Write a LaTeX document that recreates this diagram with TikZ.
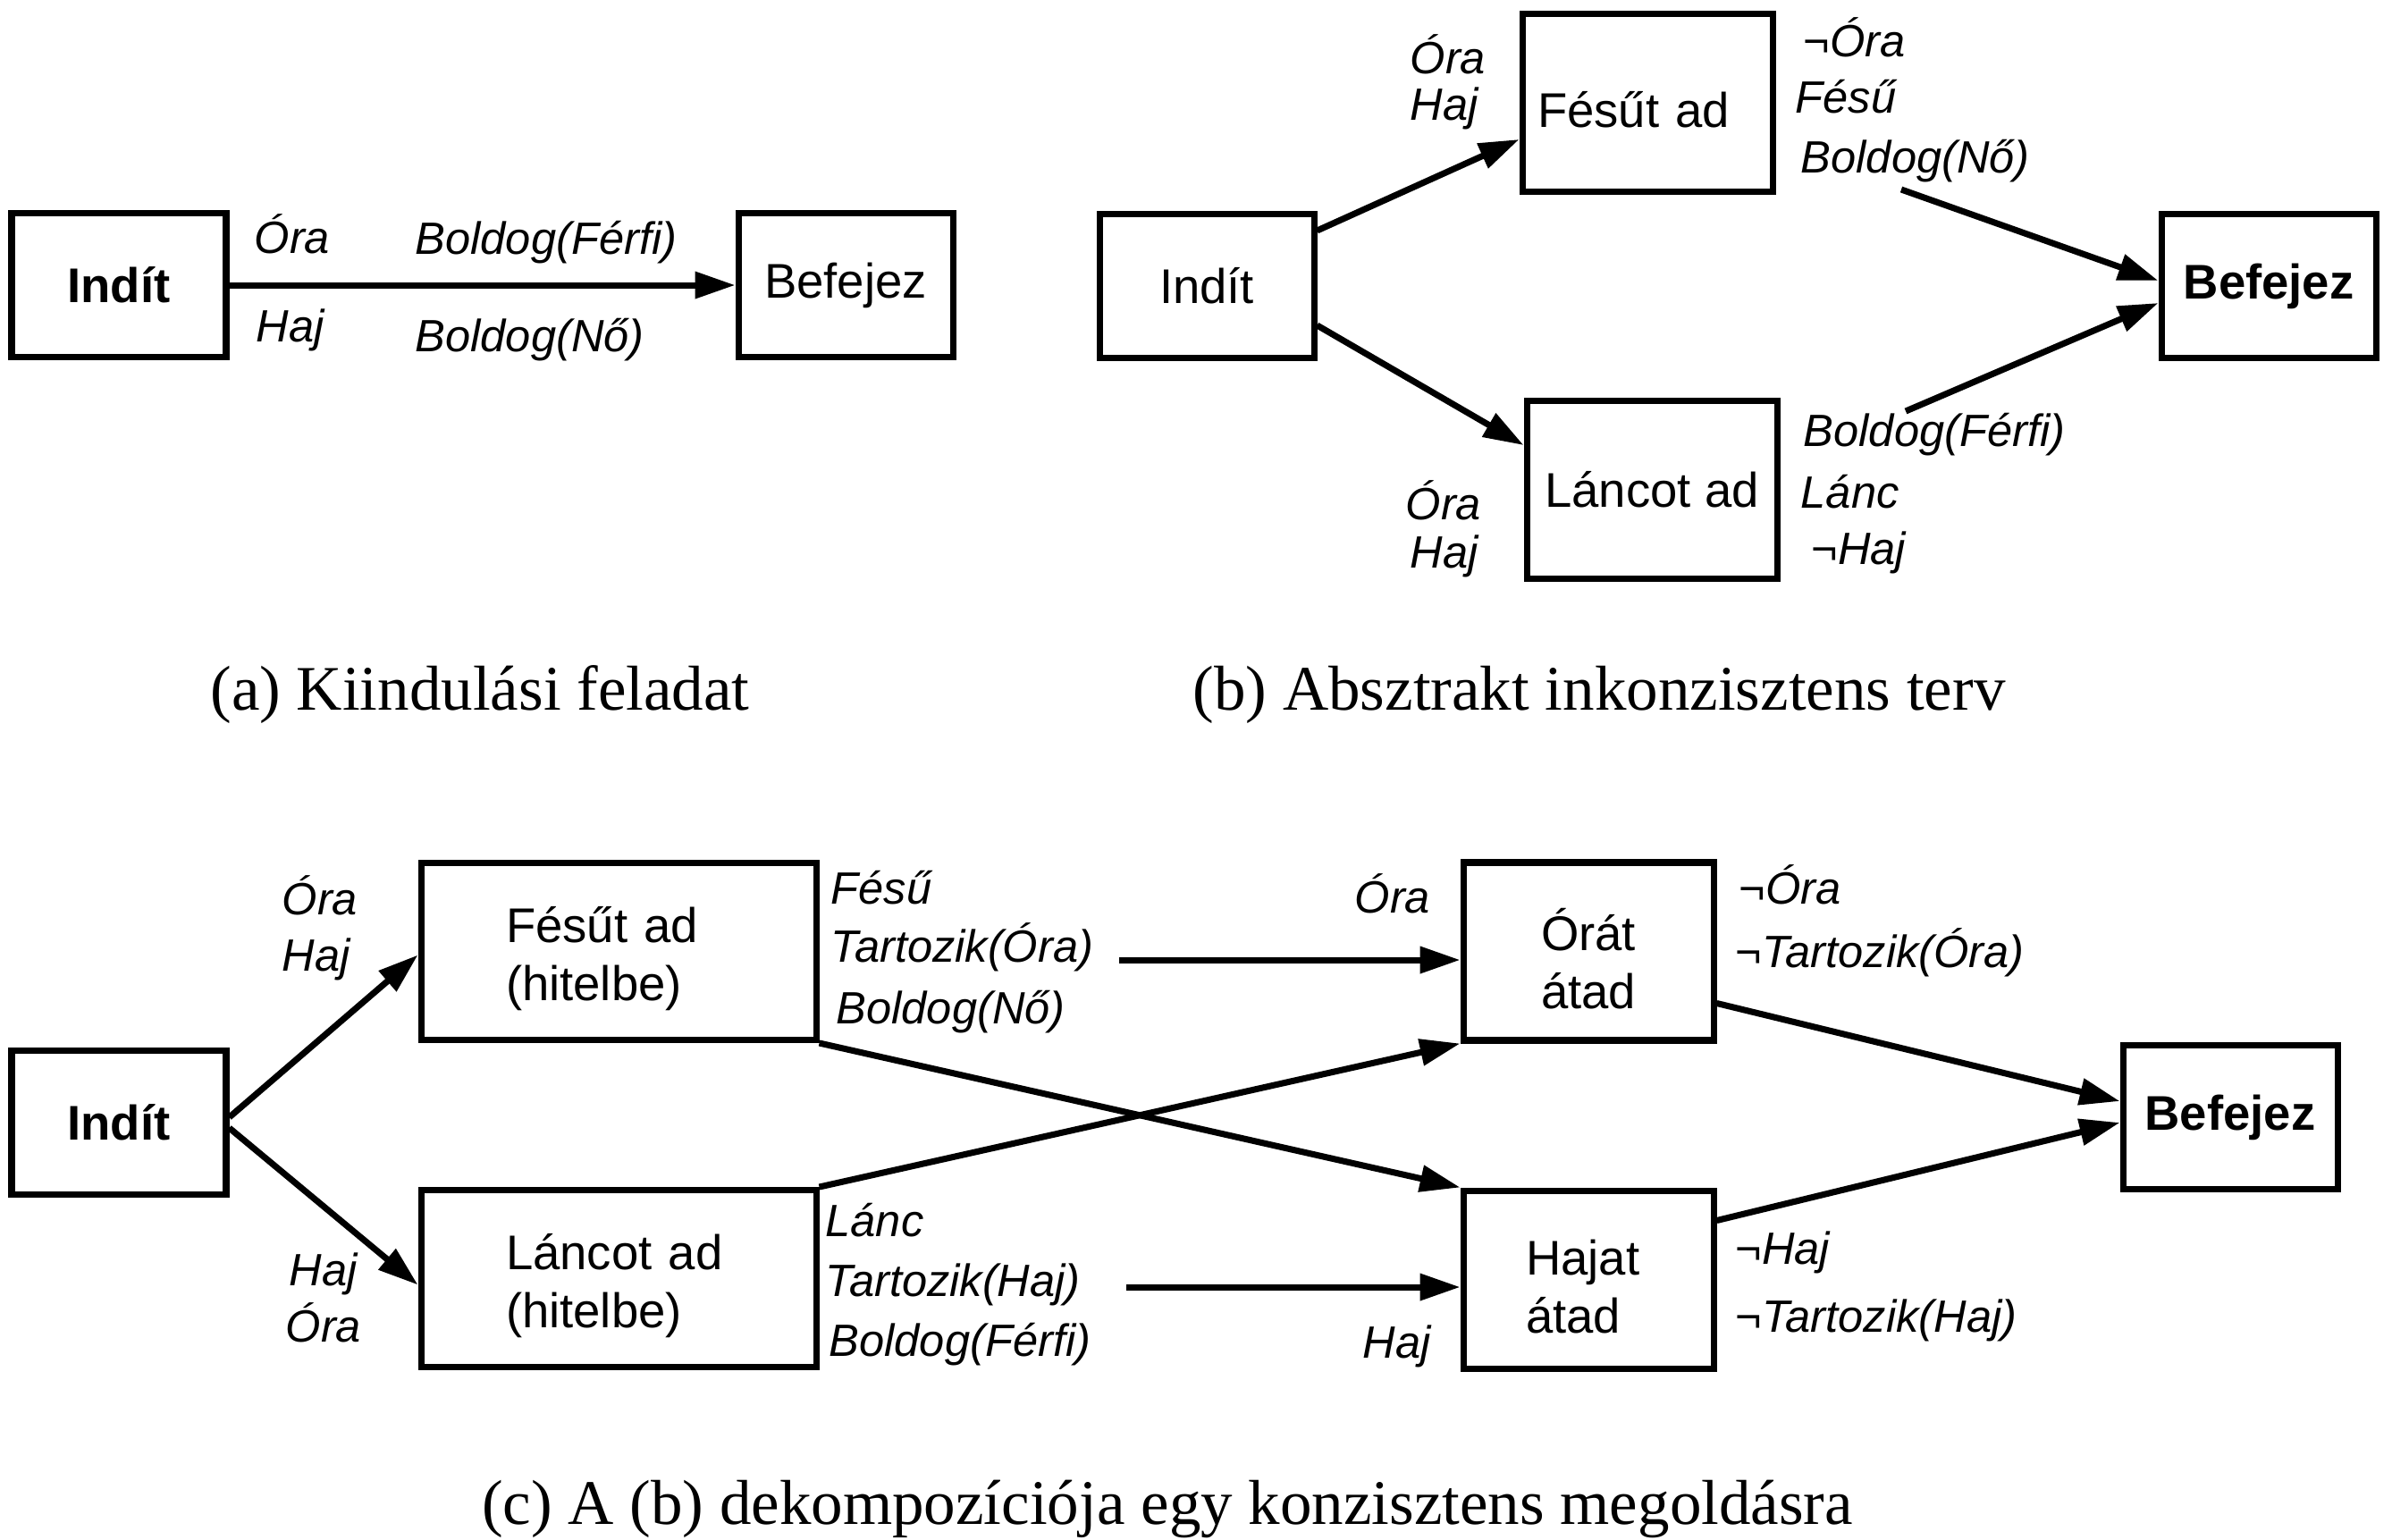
\documentclass[tikz,border=0pt]{standalone}
\usepackage{fontspec}
\setmainfont{Liberation Serif}
\setsansfont{Liberation Sans}
\usetikzlibrary{arrows.meta,positioning,calc}
\newcommand{\sunk}[1]{\raisebox{-0.8mm}[\height][\depth]{#1}}
\tikzset{
  >={Triangle[length=4.5mm,width=2.9mm]},
  every node/.style={text=black},
  box/.style={draw,line width=2pt,align=left,inner sep=2pt,minimum width=2.40cm,minimum height=1.61cm,font=\sffamily\fontsize{15.5}{18.5}\selectfont},
  wbox/.style={box,minimum width=2.80cm,minimum height=1.99cm},
  xbox/.style={box,minimum width=4.42cm,minimum height=1.98cm,text width=2.52cm},
  lit/.style={anchor=base west,inner sep=0pt,font=\sffamily\itshape\fontsize{14.4}{17}\selectfont},
  caption/.style={anchor=base,inner sep=0pt,font=\rmfamily\fontsize{20.2}{24}\selectfont},
  arrow/.style={->,line width=2pt}
}
\begin{document}
\begin{tikzpicture}
  \useasboundingbox (0,0) rectangle (26.76,-17.22);

  \node[box] (inda) at (1.33,-3.19) {\textbf{Indít}};
  \node[box,right=5.66cm of inda] (befa) {Befejez};
  \node[lit] (aOra) at (2.84,-2.83) {Óra};
  \node[lit] (aHaj) at (2.86,-3.82) {Haj};
  \node[lit] (aFerfi) at (4.64,-2.84) {Boldog(Férfi)};
  \node[lit] (aNo) at (4.64,-3.93) {Boldog(Nő)};
  \draw[arrow] (inda)--(befa);
  \node[caption] (capa) at (5.37,-7.94) {(a) Kiindulási feladat};

  \node[box] (indb) at (13.50,-3.20) {Indít};
  \node[wbox,text width=2.46cm,above right=0.18cm and 2.26cm of indb] (fesb) {\sunk{Fésűt ad}};
  \node[wbox,below right=0.41cm and 2.31cm of indb] (lancb) {Láncot ad};
  \node[box,right=9.41cm of indb] (befb) {\textbf{Befejez}};
  \node[lit] (bOra) at (15.77,-0.82) {Óra};
  \node[lit] (bHaj) at (15.77,-1.34) {Haj};
  \node[lit] (bNemOra) at (20.17,-0.63) {¬Óra};
  \node[lit] (bFesu) at (20.08,-1.26) {Fésű};
  \node[lit] (bNo) at (20.14,-1.93) {Boldog(Nő)};
  \node[lit] (bFerfi) at (20.17,-4.99) {Boldog(Férfi)};
  \node[lit] (bLanc) at (20.14,-5.68) {Lánc};
  \node[lit] (bNemHaj) at (20.26,-6.31) {¬Haj};
  \node[lit] (bOra2) at (15.72,-5.81) {Óra};
  \node[lit] (bHaj2) at (15.77,-6.35) {Haj};
  \coordinate (fromNo) at (21.27,-2.12);
  \coordinate (fromFerfi) at (21.32,-4.60);
  \draw[arrow] ([yshift=-2.2mm]indb.north east)--([yshift=-4.1mm]fesb.west);
  \draw[arrow] ([yshift=-4.4mm]indb.east)--([yshift=5.0mm]lancb.west);
  \draw[arrow] (fromNo)--([yshift=0.6mm]befb.west);
  \draw[arrow] (fromFerfi)--([yshift=-1.9mm]befb.west);
  \node[caption] (capb) at (17.89,-7.94) {(b) Absztrakt inkonzisztens terv};

  \node[box] (indc) at (1.33,-12.56) {\textbf{Indít}};
  \node[xbox,above right=0.05cm and 2.11cm of indc] (fesc) {\sunk{Fésűt ad}\\\sunk{(hitelbe)}};
  \node[xbox,below=1.61cm of fesc] (lancc) {\sunk{Láncot ad}\\\sunk{(hitelbe)}};
  \node[wbox,right=7.17cm of fesc] (orac) {\sunk{Órát}\\\sunk{átad}};
  \node[wbox,text width=1.40cm,below=1.61cm of orac] (hajc) {\sunk{Hajat}\\\sunk{átad}};
  \node[box] (befc) at (24.95,-12.50) {\textbf{Befejez}};
  \node[lit] (cOra) at (3.15,-10.23) {Óra};
  \node[lit] (cHaj) at (3.15,-10.86) {Haj};
  \node[lit] (cFesu) at (9.29,-10.11) {Fésű};
  \node[lit] (cTartOra) at (9.29,-10.76) {Tartozik(Óra)};
  \node[lit] (cNo) at (9.35,-11.45) {Boldog(Nő)};
  \node[lit] (cLanc) at (9.23,-13.83) {Lánc};
  \node[lit] (cTartHaj) at (9.23,-14.50) {Tartozik(Haj)};
  \node[lit] (cFerfi) at (9.27,-15.17) {Boldog(Férfi)};
  \node[lit] (cHaj2) at (3.23,-14.38) {Haj};
  \node[lit] (cOra2) at (3.19,-15.01) {Óra};
  \node[lit] (cOra3) at (15.15,-10.21) {Óra};
  \node[lit] (cNemOra) at (19.45,-10.11) {¬Óra};
  \node[lit] (cNemTartOra) at (19.41,-10.82) {¬Tartozik(Óra)};
  \node[lit] (cNemHaj) at (19.41,-14.14) {¬Haj};
  \node[lit] (cNemTartHaj) at (19.41,-14.90) {¬Tartozik(Haj)};
  \node[lit] (cHaj3) at (15.24,-15.19) {Haj};
  \coordinate (fromTartOra) at (12.52,-10.74);
  \coordinate (fromTartHaj) at (12.60,-14.40);
  \draw[arrow] ([yshift=0.6mm]indc.east)--([yshift=-0.4mm]fesc.west);
  \draw[arrow] ([yshift=-0.6mm]indc.east)--([yshift=-0.7mm]lancc.west);
  \draw[arrow] (fesc.south east)--(hajc.north west);
  \draw[arrow] (lancc.north east)--(orac.south west);
  \draw[arrow] (fromTartOra)--(fromTartOra -| orac.west);
  \draw[arrow] (fromTartHaj)--(fromTartHaj -| hajc.west);
  \draw[arrow] ([yshift=-5.8mm]orac.east)--([yshift=1.8mm]befc.west);
  \draw[arrow] ([yshift=6.6mm]hajc.east)--([yshift=-0.6mm]befc.west);
  \node[caption] (capc) at (13.06,-17.05) {(c) A (b) dekompozíciója egy konzisztens megoldásra};
\end{tikzpicture}
\end{document}
